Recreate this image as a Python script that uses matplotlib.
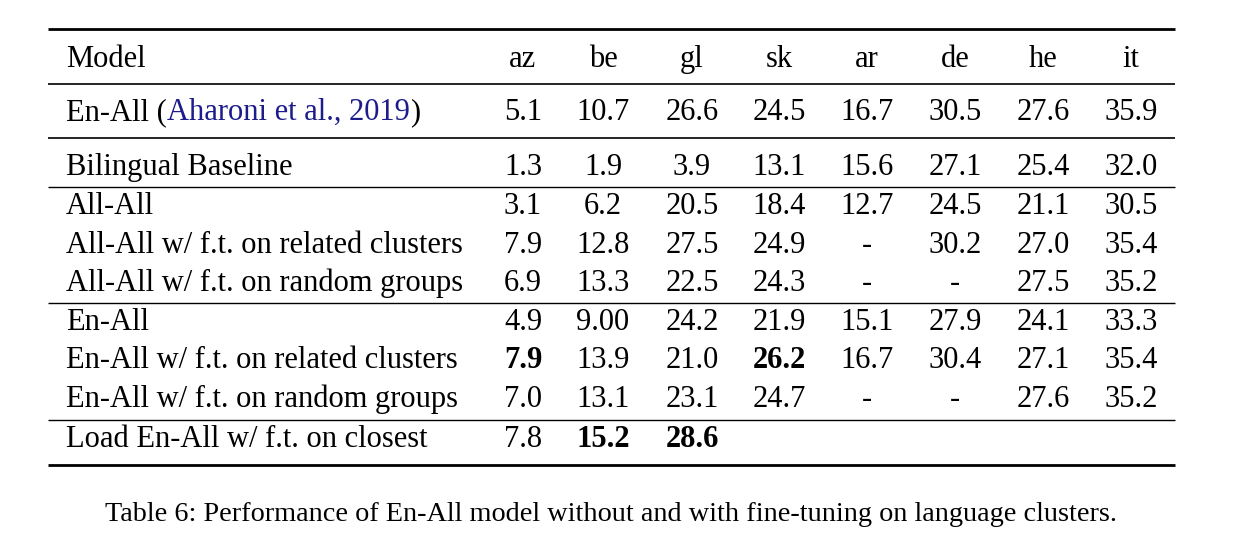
import matplotlib.pyplot as plt

# table content
languages = ["az", "be", "gl", "sk", "ar", "de", "he", "it"]
models = [
    "En-All (Aharoni et al., 2019)",
    "Bilingual Baseline",
    "All-All",
    "All-All w/ f.t. on related clusters",
    "All-All w/ f.t. on random groups",
    "En-All",
    "En-All w/ f.t. on related clusters",
    "En-All w/ f.t. on random groups",
    "Load En-All w/ f.t. on closest",
]
scores = [
    ["5.1", "10.7", "26.6", "24.5", "16.7", "30.5", "27.6", "35.9"],
    ["1.3", "1.9", "3.9", "13.1", "15.6", "27.1", "25.4", "32.0"],
    ["3.1", "6.2", "20.5", "18.4", "12.7", "24.5", "21.1", "30.5"],
    ["7.9", "12.8", "27.5", "24.9", "-", "30.2", "27.0", "35.4"],
    ["6.9", "13.3", "22.5", "24.3", "-", "-", "27.5", "35.2"],
    ["4.9", "9.00", "24.2", "21.9", "15.1", "27.9", "24.1", "33.3"],
    ["7.9", "13.9", "21.0", "26.2", "16.7", "30.4", "27.1", "35.4"],
    ["7.0", "13.1", "23.1", "24.7", "-", "-", "27.6", "35.2"],
    ["7.8", "15.2", "28.6", "", "", "", "", ""],
]
# (row, col) cells set in bold
bold_cells = [(6, 0), (6, 3), (8, 1), (8, 2)]
caption = "Table 6: Performance of En-All model without and with fine-tuning on language clusters."

plt.rcParams["font.family"] = ["Liberation Serif", "DejaVu Serif"]
fs = 22
cap_fs = 20.3

fig = plt.figure(figsize=(12.53, 5.5), dpi=100)
ax = fig.add_axes([0, 0, 1, 1])
ax.set_xlim(0, 1253)
ax.set_ylim(550, 0)
ax.axis("off")

col_x = [523, 603, 692, 779, 867, 955, 1043, 1131]
row_base = [120, 175, 214, 253, 291, 330, 368, 407, 447]
header_base = 67
x_left, x_right = 48, 1175

# header
ax.text(66, header_base, "Model", fontsize=fs, va="baseline", ha="left")
for x, lang in zip(col_x, languages):
    ax.text(x, header_base, lang, fontsize=fs, va="baseline", ha="center")

# body
for i, (name, row) in enumerate(zip(models, scores)):
    y = row_base[i]
    if i == 0:
        t1 = ax.text(66, y, "En-All (", fontsize=fs, va="baseline", ha="left")
        t2 = ax.annotate("Aharoni et al., 2019", xycoords=t1, xy=(1, 0),
                         va="bottom", ha="left", fontsize=fs, color="#1c1c8a")
        ax.annotate(")", xycoords=t2, xy=(1, 0), va="bottom", ha="left",
                    fontsize=fs)
    else:
        ax.text(66, y, name, fontsize=fs, va="baseline", ha="left")
    for j, val in enumerate(row):
        weight = "bold" if (i, j) in bold_cells else "normal"
        ax.text(col_x[j], y, val, fontsize=fs, va="baseline", ha="center",
                fontweight=weight)

# rules
for y, lw in [(29, 2.0), (84, 1.2), (138, 1.2), (187, 1.0),
              (303, 1.0), (420, 1.0), (465, 2.0)]:
    ax.plot([x_left, x_right], [y, y], color="black", lw=lw,
            solid_capstyle="butt")

ax.text(611, 521, caption, fontsize=cap_fs, va="baseline", ha="center")

fig.savefig("out.png", dpi=100)
